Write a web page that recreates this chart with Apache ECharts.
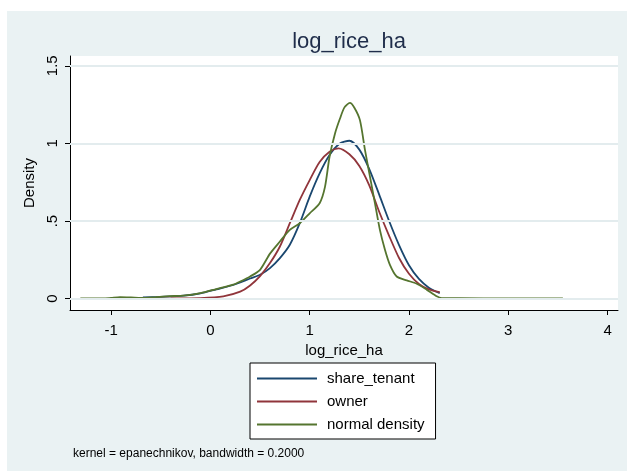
<!DOCTYPE html>
<html>
<head>
<meta charset="utf-8">
<script src="https://cdn.jsdelivr.net/npm/echarts@6/dist/echarts.min.js"></script>
<style>
  html, body { margin: 0; padding: 0; background: #fff; }
  #grafica { position: absolute; left: 7px; top: 11px; width: 620px; height: 460px; }
</style>
</head>
<body>
<div id="grafica"></div>
<script>
// valores (densidad kernel de log_rice_ha)
const tenantX = [-0.68, -0.5, -0.27, -0.1, 0.06, 0.23, 0.3, 0.4, 0.5, 0.6, 0.7, 0.8, 0.9, 1.0, 1.1, 1.2, 1.3, 1.4, 1.5, 1.6, 1.7, 1.8, 1.9, 2.0, 2.1, 2.2, 2.31];
const tenantY = [0.008, 0.012, 0.019, 0.034, 0.06, 0.088, 0.104, 0.13, 0.154, 0.197, 0.261, 0.347, 0.486, 0.657, 0.807, 0.925, 0.998, 1.017, 0.96, 0.835, 0.67, 0.5, 0.345, 0.215, 0.127, 0.071, 0.035];

const ownerX = [-0.68, -0.4, -0.1, 0.13, 0.3, 0.4, 0.5, 0.6, 0.7, 0.8, 0.9, 1.0, 1.1, 1.2, 1.29, 1.4, 1.5, 1.6, 1.7, 1.8, 1.9, 2.0, 2.1, 2.2, 2.31];
const ownerY = [0.0, 0.001, 0.004, 0.015, 0.045, 0.085, 0.145, 0.229, 0.336, 0.486, 0.636, 0.764, 0.88, 0.946, 0.968, 0.93, 0.855, 0.73, 0.56, 0.405, 0.262, 0.16, 0.095, 0.06, 0.042];

const normalX = [-1.31, -1.2, -1.08, -1.0, -0.91, -0.8, -0.7, -0.55, -0.41, -0.27, -0.1, 0.06, 0.23, 0.3, 0.4, 0.5, 0.6, 0.7, 0.8, 0.9, 1.0, 1.1, 1.154, 1.2, 1.255, 1.305, 1.35, 1.405, 1.45, 1.506, 1.557, 1.607, 1.657, 1.707, 1.758, 1.808, 1.876, 1.977, 2.078, 2.178, 2.279, 2.33, 2.5, 3.0, 3.55];
const normalY = [0.002, 0.001, 0.001, 0.005, 0.01, 0.008, 0.005, 0.01, 0.016, 0.02, 0.036, 0.062, 0.09, 0.11, 0.143, 0.186, 0.29, 0.368, 0.443, 0.486, 0.55, 0.615, 0.72, 0.914, 1.064, 1.16, 1.232, 1.261, 1.23, 1.15, 0.957, 0.786, 0.615, 0.443, 0.315, 0.218, 0.143, 0.118, 0.096, 0.058, 0.015, 0.004, 0.003, 0.002, 0.002];

const xTicks = [-1, 0, 1, 2, 3, 4];
const yTicks = [0, 0.5, 1, 1.5];

const fuente = "'Liberation Sans', Arial, sans-serif";

function pares(xs, ys) {
  return xs.map(function (x, i) { return [x, ys[i]]; });
}

var dom = document.getElementById('grafica');
var myChart = echarts.init(dom, null, { renderer: 'canvas' });

var option = {
  backgroundColor: '#eaf2f3',
  animation: false,
  title: [
    {
      text: 'log_rice_ha',
      left: 337,
      top: 15,
      textAlign: 'center',
      textStyle: { fontFamily: fuente, fontSize: 22, fontWeight: 'normal', color: '#1f2d4a' }
    },
    {
      text: 'kernel = epanechnikov, bandwidth = 0.2000',
      left: 61,
      top: 432,
      textStyle: { fontFamily: fuente, fontSize: 12, fontWeight: 'normal', color: '#000' }
    }
  ],
  legend: {
    data: ['share_tenant', 'owner', 'normal density'],
    orient: 'vertical',
    left: 243,
    top: 352,
    padding: [8, 11, 7, 7],
    itemGap: 8,
    itemWidth: 60,
    itemHeight: 2,
    icon: 'rect',
    backgroundColor: '#fff',
    borderColor: '#000',
    borderWidth: 1,
    borderRadius: 0,
    textStyle: { fontFamily: fuente, fontSize: 15, color: '#000', padding: [0, 0, 0, 5] }
  },
  grid: {
    left: 63,
    right: 9,
    top: 45,
    bottom: 161,
    show: true,
    backgroundColor: '#fff',
    borderWidth: 0
  },
  xAxis: {
    type: 'value',
    min: -1.414,
    max: 4.105,
    name: 'log_rice_ha',
    nameLocation: 'middle',
    nameGap: 24,
    nameTextStyle: { fontFamily: fuente, fontSize: 15, color: '#000' },
    axisLine: { onZero: false, lineStyle: { color: '#000', width: 1 } },
    axisTick: { customValues: xTicks, length: 5, lineStyle: { color: '#000' } },
    axisLabel: { customValues: xTicks, margin: 13, fontFamily: fuente, fontSize: 15, color: '#000' },
    splitLine: { show: false }
  },
  yAxis: {
    type: 'value',
    min: -0.073,
    max: 1.563,
    name: 'Density',
    nameLocation: 'middle',
    nameGap: 25,
    nameRotate: 90,
    nameTextStyle: { fontFamily: fuente, fontSize: 15, color: '#000' },
    axisLine: { show: true, onZero: false, lineStyle: { color: '#000', width: 1 } },
    axisTick: { show: true, customValues: yTicks, length: 5, lineStyle: { color: '#000' } },
    axisLabel: {
      customValues: yTicks,
      rotate: 90,
      margin: 10,
      fontFamily: fuente,
      fontSize: 15,
      color: '#000',
      formatter: function (v) { return v === 0.5 ? '.5' : String(v); }
    },
    splitLine: { show: false }
  },
  series: [
    {
      // lineas de la rejilla
      type: 'line',
      z: 1,
      data: [[0, 0]],
      symbol: 'none',
      lineStyle: { opacity: 0 },
      silent: true,
      markLine: {
        silent: true,
        symbol: 'none',
        label: { show: false },
        lineStyle: { color: '#e3ecee', width: 2, type: 'solid' },
        data: yTicks.map(function (v) { return { yAxis: v }; })
      }
    },
    {
      name: 'share_tenant',
      type: 'line',
      z: 3,
      smooth: 0.25,
      symbol: 'none',
      color: '#1a476f',
      lineStyle: { width: 1.8 },
      data: pares(tenantX, tenantY)
    },
    {
      name: 'owner',
      type: 'line',
      z: 3,
      smooth: 0.25,
      symbol: 'none',
      color: '#90353b',
      lineStyle: { width: 1.8 },
      data: pares(ownerX, ownerY)
    },
    {
      name: 'normal density',
      type: 'line',
      z: 4,
      smooth: 0.25,
      symbol: 'none',
      color: '#55752f',
      lineStyle: { width: 1.8 },
      data: pares(normalX, normalY)
    }
  ]
};

myChart.setOption(option);
window.addEventListener('resize', myChart.resize);
</script>
</body>
</html>
